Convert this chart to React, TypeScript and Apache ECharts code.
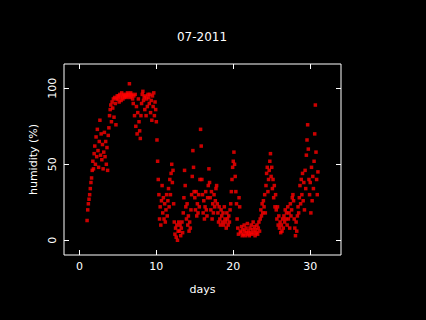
import React, { useEffect, useRef } from "react";
import * as echarts from "echarts";

const SAMPLES_PER_DAY = 12;
const xTicks = [0, 10, 20, 30];
const yTicks = [0, 50, 100];

const humidityDays01to05 = [
  13, 20, 24, 27, 30, 34, 38, 41, 46, 52, 47, 57,
  62, 50, 68, 55, 73, 59, 48, 65, 79, 56, 70, 53,
  63, 47, 58, 71, 55, 65, 50, 61, 46, 69, 74, 82,
  86, 89, 78, 91, 87, 93, 81, 94, 90, 76, 93, 95,
  93, 95, 91, 96, 94, 92, 97, 95, 93, 96, 94, 95,
];
const humidityDays06to10 = [
  95, 96, 94, 97, 95, 96, 103, 94, 97, 95, 96, 93,
  90, 95, 82, 96, 75, 88, 70, 84, 93, 78, 72, 67,
  82, 90, 96, 98, 92, 94, 86, 95, 82, 93, 88, 96,
  94, 90, 96, 84, 92, 79, 95, 88, 97, 82, 91, 86,
  78, 66, 52, 40, 30, 14, 22, 10, 26, 36, 18, 28,
];
const humidityDays11to15 = [
  14, 24, 12, 20, 30, 16, 26, 34, 22, 40, 30, 44,
  50, 38, 46, 24, 12, 4, 8, 2, 10, 0, 6, 12,
  6, 10, 3, 8, 12, 5, 18, 28, 46, 36, 22, 14,
  24, 10, 16, 6, 12, 8, 20, 30, 42, 59, 48, 32,
  28, 20, 32, 16, 24, 18, 30, 22, 40, 73, 62, 40,
];
const humidityDays16to20 = [
  30, 18, 26, 14, 22, 32, 20, 16, 28, 36, 47, 38,
  28, 20, 32, 14, 24, 18, 30, 22, 26, 34, 36, 24,
  18, 12, 22, 14, 10, 20, 16, 12, 18, 10, 22, 14,
  12, 8, 18, 14, 10, 16, 12, 20, 24, 32, 40, 48,
  52, 58, 50, 42, 32, 24, 14, 8, 4, 28, 22, 6,
];
const humidityDays21to25 = [
  5, 9, 3, 7, 4, 10, 6, 3, 8, 5, 11, 4,
  6, 3, 8, 5, 10, 4, 7, 12, 5, 9, 3, 7,
  5, 10, 4, 8, 12, 6, 14, 20, 16, 24, 18, 26,
  22, 30, 18, 36, 44, 48, 32, 40, 46, 52, 57, 42,
  48, 34, 40, 28, 36, 22, 30, 20, 14, 22, 10, 16,
];
const humidityDays26to31 = [
  8, 12, 5, 10, 6, 14, 8, 16, 12, 20, 14, 18,
  10, 22, 14, 18, 8, 24, 16, 20, 28, 30, 26, 14,
  8, 3, 12, 6, 16, 22, 18, 28, 36, 24, 40, 30,
  44, 26, 38, 20, 46, 34, 56, 66, 76, 60, 40, 30,
  38, 18, 48, 26, 42, 34, 52, 70, 89, 58, 40, 30,
  45,
];

const blocks: [number, number[]][] = [
  [1, humidityDays01to05],
  [6, humidityDays06to10],
  [11, humidityDays11to15],
  [16, humidityDays16to20],
  [21, humidityDays21to25],
  [26, humidityDays26to31],
];

export default function App() {
  const ref = useRef<HTMLDivElement>(null);
  useEffect(() => {
    if (!ref.current) return;
    const chart = echarts.init(ref.current, null, { renderer: "svg" });
    const points: number[][] = [];
    blocks.forEach(([start, vals]) => {
      vals.forEach((v, i) => points.push([start + i / SAMPLES_PER_DAY, v]));
    });
    const font = "DejaVu Sans";
    const tickStyle = { inside: true, length: 5, lineStyle: { color: "#fff", width: 1 } };
    const noLine = { show: false, onZero: false };
    chart.setOption({
      animation: false,
      backgroundColor: "#000",
      title: {
        text: "07-2011",
        left: 202,
        top: 31,
        padding: 0,
        textAlign: "center",
        textStyle: { color: "#fff", fontFamily: font, fontSize: 12, fontWeight: "normal" },
      },
      grid: {
        left: 64,
        right: 85,
        top: 64,
        bottom: 65,
        show: true,
        borderColor: "#fff",
        borderWidth: 1,
        backgroundColor: "transparent",
      },
      xAxis: [
        {
          type: "value",
          min: -2,
          max: 34,
          position: "bottom",
          name: "days",
          nameLocation: "middle",
          nameGap: 29,
          nameTextStyle: { color: "#fff", fontFamily: font, fontSize: 11 },
          axisLine: noLine,
          splitLine: { show: false },
          axisTick: { ...tickStyle, customValues: xTicks },
          axisLabel: { customValues: xTicks, color: "#fff", fontFamily: font, fontSize: 11, margin: 6 },
        },
        {
          type: "value",
          min: -2,
          max: 34,
          position: "top",
          axisLine: noLine,
          splitLine: { show: false },
          axisTick: { ...tickStyle, customValues: xTicks },
          axisLabel: { show: false, customValues: xTicks },
        },
      ],
      yAxis: [
        {
          type: "value",
          min: -9.7,
          max: 116,
          position: "left",
          name: "humidity (%)",
          nameLocation: "middle",
          nameGap: 23,
          nameTextStyle: { color: "#fff", fontFamily: font, fontSize: 11 },
          axisLine: noLine,
          splitLine: { show: false },
          axisTick: { ...tickStyle, customValues: yTicks },
          axisLabel: { customValues: yTicks, color: "#fff", fontFamily: font, fontSize: 11, margin: 6, rotate: 90 },
        },
        {
          type: "value",
          min: -9.7,
          max: 116,
          position: "right",
          axisLine: noLine,
          splitLine: { show: false },
          axisTick: { ...tickStyle, customValues: yTicks },
          axisLabel: { show: false, customValues: yTicks },
        },
      ],
      series: [
        {
          type: "scatter",
          data: points,
          symbol: "rect",
          symbolSize: 3.5,
          itemStyle: { color: "#ff0000" },
          silent: true,
        },
      ],
    });
    return () => chart.dispose();
  }, []);
  return (
    <div
      ref={ref}
      style={{ position: "fixed", left: 0, top: 0, width: 426, height: 320, background: "#000" }}
    />
  );
}
